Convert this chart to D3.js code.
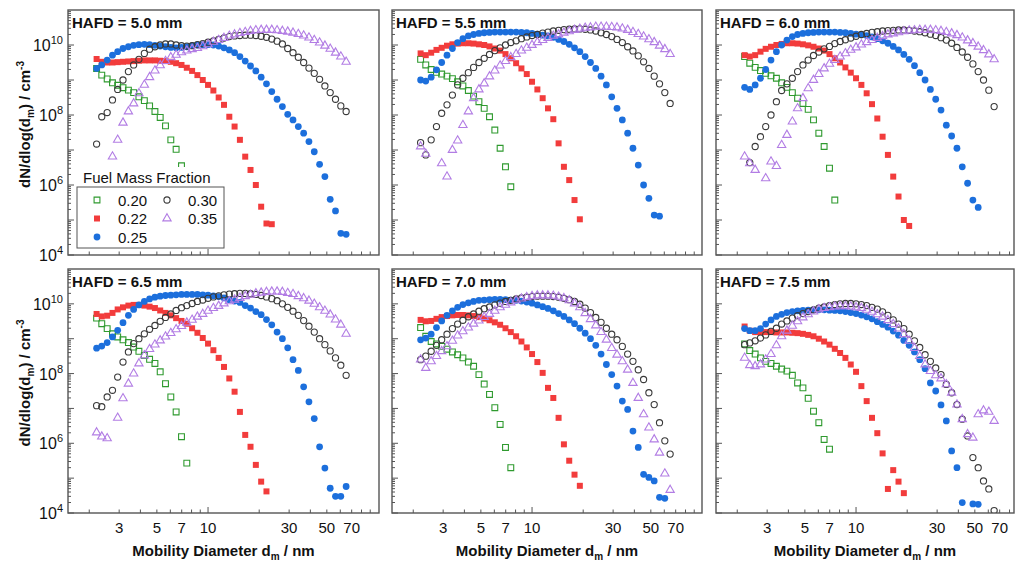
<!DOCTYPE html>
<html>
<head>
  <meta charset="utf-8">
  <script src="https://d3js.org/d3.v7.min.js"></script>
  <style>
    body { margin:0; background:#fff; }
    text { font-family: Arial, "Liberation Sans", sans-serif; fill:#111; }
  </style>
</head>
<body>
<script>
// mobility diameter channels (nm)
var diam = [2.21, 2.37, 2.55, 2.74, 2.94, 3.16, 3.40, 3.65, 3.92, 4.22, 4.53, 4.87,
            5.23, 5.62, 6.04, 6.49, 6.98, 7.50, 8.06, 8.66, 9.31, 10.0, 10.75, 11.55,
            12.41, 13.34, 14.33, 15.40, 16.55, 17.78, 19.11, 20.54, 22.07, 23.71, 25.48, 27.38,
            29.43, 31.62, 33.98, 36.52, 39.24, 42.17, 45.32, 48.70, 52.33, 56.23, 60.43, 64.94];

var fractions = ["0.20", "0.22", "0.25", "0.30", "0.35"];
var hafd = ["5.0", "5.5", "6.0", "6.5", "7.0", "7.5"];

// log10(dN/dlog dm) per fuel mass fraction, starting at diam[0], null = no point
var logN_50 = [
  [9.33, 9.14, 9.03, 8.92, 8.85, 8.78, 8.71, 8.64, 8.52, 8.41, 8.26, 8.10, 7.93, 7.69, 7.29, 7.02, 6.55, 6.0, 5.5],
  [9.60, 9.52, 9.50, 9.50, 9.51, 9.52, 9.53, 9.54, 9.55, 9.56, 9.56, 9.56, 9.55, 9.54, 9.52, 9.48, 9.43, 9.35, 9.26, 9.14, 9.0, 8.86, 8.70, 8.50, 8.29, 7.95, 7.67, 7.29, 6.81, 6.43, 6.0, 5.38, 4.90, 4.88],
  [9.33, 9.43, 9.57, 9.71, 9.81, 9.90, 9.95, 9.99, 10.01, 10.02, 10.01, 9.99, 9.97, 9.95, 9.93, 9.92, 9.93, 9.95, 9.98, 10.0, 10.01, 10.01, 10.0, 9.97, 9.92, 9.86, 9.78, 9.67, 9.54, 9.40, 9.26, 9.08, 8.89, 8.67, 8.45, 8.24, 8.02, 7.86, 7.67, 7.48, 7.24, 6.95, 6.59, 6.24, 5.59, 5.26, 4.62, 4.59],
  [7.17, 7.95, 8.07, 8.43, 8.73, 9.0, 9.24, 9.43, 9.59, 9.76, 9.88, 9.95, 10.0, 10.03, 10.03, 10.0, 9.98, 9.97, 9.98, 10.01, 10.04, 10.08, 10.12, 10.16, 10.20, 10.24, 10.26, 10.27, 10.28, 10.28, 10.27, 10.25, 10.22, 10.17, 10.11, 10.03, 9.90, 9.78, 9.65, 9.50, 9.34, 9.19, 9.02, 8.83, 8.64, 8.45, 8.26, 8.10],
  [null, null, null, 6.81, 7.29, 7.78, 8.10, 8.33, 8.62, 8.86, 9.08, 9.27, 9.42, 9.54, 9.65, 9.72, 9.79, 9.84, 9.88, 9.91, 9.96, 10.02, 10.09, 10.14, 10.20, 10.26, 10.30, 10.34, 10.37, 10.40, 10.42, 10.43, 10.43, 10.43, 10.42, 10.40, 10.38, 10.35, 10.31, 10.27, 10.21, 10.14, 10.07, 9.98, 9.89, 9.78, 9.67, 9.52]
];
var logN_55 = [
  [9.59, 9.43, 9.30, 9.22, 9.17, 9.11, 9.04, 8.95, 8.83, 8.70, 8.54, 8.38, 8.19, 7.95, 7.57, 7.05, 6.52, 5.95],
  [9.76, 9.71, 9.78, 9.86, 9.92, 9.98, 10.02, 10.04, 10.05, 10.05, 10.04, 10.02, 10.0, 9.96, 9.90, 9.84, 9.74, 9.62, 9.48, 9.33, 9.17, 8.95, 8.73, 8.48, 8.19, 7.88, 7.19, 6.52, 6.14, 5.57, 5.02],
  [9.0, 8.97, 9.08, 9.29, 9.50, 9.71, 9.90, 10.07, 10.18, 10.26, 10.30, 10.33, 10.35, 10.36, 10.37, 10.37, 10.37, 10.37, 10.37, 10.36, 10.35, 10.33, 10.31, 10.28, 10.26, 10.22, 10.16, 10.10, 10.02, 9.92, 9.81, 9.67, 9.50, 9.33, 9.11, 8.86, 8.52, 8.19, 7.86, 7.48, 7.05, 6.57, 6.0, 5.62, 5.14, 5.11],
  [7.21, 6.86, 7.29, 7.67, 8.05, 8.29, 8.57, 8.86, 9.05, 9.21, 9.36, 9.50, 9.62, 9.73, 9.84, 9.92, 10.0, 10.07, 10.12, 10.18, 10.23, 10.27, 10.30, 10.34, 10.37, 10.40, 10.42, 10.44, 10.45, 10.46, 10.46, 10.45, 10.43, 10.40, 10.35, 10.30, 10.24, 10.16, 10.07, 9.95, 9.83, 9.69, 9.52, 9.33, 9.11, 8.89, 8.64, 8.33],
  [7.10, 6.89, null, null, 6.62, 6.24, 7.0, 7.27, 7.71, 8.10, 8.48, 8.73, 8.90, 9.10, 9.27, 9.41, 9.54, 9.65, 9.74, 9.84, 9.92, 10.0, 10.08, 10.14, 10.20, 10.26, 10.30, 10.35, 10.39, 10.43, 10.46, 10.49, 10.50, 10.52, 10.52, 10.52, 10.51, 10.50, 10.47, 10.43, 10.37, 10.31, 10.24, 10.16, 10.08, 9.98, 9.88, 9.74]
];
var logN_60 = [
  [9.67, 9.48, 9.36, 9.27, 9.19, 9.12, 9.05, 8.92, 8.79, 8.64, 8.48, 8.33, 8.16, 7.86, 7.48, 7.10, 6.48, 5.57],
  [9.71, 9.67, 9.71, 9.81, 9.89, 9.95, 10.0, 10.03, 10.05, 10.05, 10.04, 10.02, 9.99, 9.95, 9.90, 9.84, 9.74, 9.62, 9.50, 9.36, 9.21, 9.05, 8.86, 8.62, 8.31, 7.90, 7.38, 6.86, 6.24, 5.67, 5.0, 4.83],
  [8.79, 8.73, 8.86, 9.05, 9.30, 9.57, 9.81, 10.0, 10.14, 10.24, 10.30, 10.33, 10.35, 10.36, 10.37, 10.37, 10.37, 10.37, 10.36, 10.35, 10.33, 10.31, 10.29, 10.27, 10.23, 10.18, 10.12, 10.05, 9.96, 9.86, 9.73, 9.59, 9.41, 9.21, 9.0, 8.73, 8.45, 8.14, 7.71, 7.40, 7.05, 6.52, 6.05, 5.57, 5.36],
  [null, 6.64, 7.10, 7.38, 7.67, 8.0, 8.38, 8.70, 8.89, 9.05, 9.24, 9.43, 9.57, 9.70, 9.80, 9.89, 9.96, 10.04, 10.10, 10.15, 10.20, 10.25, 10.30, 10.33, 10.36, 10.38, 10.40, 10.41, 10.42, 10.43, 10.43, 10.42, 10.40, 10.38, 10.35, 10.31, 10.27, 10.21, 10.14, 10.05, 9.93, 9.80, 9.65, 9.46, 9.24, 9.0, 8.71, 8.24],
  [6.81, 6.62, 6.43, null, 6.19, 6.67, 6.54, 7.14, 7.43, 7.81, 8.19, 8.48, 8.76, 9.0, 9.17, 9.33, 9.46, 9.57, 9.67, 9.76, 9.86, 9.93, 10.01, 10.08, 10.14, 10.20, 10.25, 10.30, 10.33, 10.36, 10.39, 10.41, 10.42, 10.43, 10.43, 10.43, 10.42, 10.40, 10.37, 10.33, 10.28, 10.21, 10.13, 10.05, 9.95, 9.85, 9.73, 9.59]
];
var logN_65 = [
  [9.59, 9.43, 9.29, 9.14, 9.05, 8.97, 8.89, 8.76, 8.64, 8.52, 8.41, 8.29, 8.05, 7.71, 7.33, 6.90, 6.19, 5.43],
  [9.71, 9.64, 9.66, 9.74, 9.84, 9.90, 9.95, 9.97, 9.97, 9.95, 9.92, 9.88, 9.81, 9.74, 9.67, 9.59, 9.51, 9.43, 9.30, 9.17, 9.02, 8.86, 8.67, 8.45, 8.19, 7.86, 7.48, 6.90, 6.24, 5.90, 5.38, 4.90, 4.62],
  [8.73, 8.79, 8.89, 9.05, 9.24, 9.46, 9.67, 9.84, 9.97, 10.07, 10.14, 10.19, 10.22, 10.24, 10.25, 10.26, 10.27, 10.27, 10.27, 10.27, 10.26, 10.25, 10.23, 10.21, 10.17, 10.12, 10.08, 10.04, 9.95, 9.88, 9.78, 9.69, 9.55, 9.40, 9.19, 9.0, 8.74, 8.40, 8.09, 7.62, 7.19, 6.71, 5.90, 5.29, 4.71, 4.48, 4.48, 4.76],
  [7.08, 7.05, 7.33, 7.52, 7.90, 8.33, 8.62, 8.86, 9.0, 9.14, 9.27, 9.38, 9.50, 9.61, 9.71, 9.81, 9.89, 9.95, 10.01, 10.07, 10.11, 10.16, 10.20, 10.23, 10.26, 10.28, 10.29, 10.30, 10.30, 10.29, 10.27, 10.24, 10.20, 10.15, 10.09, 10.0, 9.90, 9.79, 9.67, 9.52, 9.36, 9.19, 9.0, 8.83, 8.65, 8.45, 8.24, 7.95],
  [6.31, 6.19, 6.14, null, 6.73, 7.29, 7.71, 8.0, 8.29, 8.52, 8.70, 8.83, 8.95, 9.06, 9.16, 9.27, 9.36, 9.46, 9.54, 9.63, 9.71, 9.80, 9.88, 9.94, 10.01, 10.07, 10.12, 10.17, 10.22, 10.26, 10.30, 10.32, 10.34, 10.35, 10.35, 10.34, 10.31, 10.28, 10.22, 10.16, 10.09, 10.0, 9.90, 9.80, 9.69, 9.55, 9.40, 9.14]
];
var logN_70 = [
  [9.32, 9.07, 8.92, 8.85, 8.78, 8.70, 8.62, 8.54, 8.45, 8.33, 8.21, 7.97, 7.70, 7.40, 7.02, 6.54, 5.88, 5.30],
  [9.54, 9.50, 9.51, 9.57, 9.62, 9.65, 9.67, 9.68, 9.68, 9.67, 9.65, 9.62, 9.58, 9.53, 9.47, 9.40, 9.30, 9.19, 9.07, 8.92, 8.75, 8.56, 8.33, 8.02, 7.59, 7.30, 6.73, 5.97, 5.50, 5.10, 4.78],
  [8.97, 9.02, 9.13, 9.32, 9.51, 9.67, 9.80, 9.90, 9.98, 10.03, 10.07, 10.10, 10.11, 10.12, 10.13, 10.13, 10.12, 10.11, 10.10, 10.08, 10.05, 10.02, 9.97, 9.92, 9.87, 9.80, 9.72, 9.64, 9.54, 9.43, 9.30, 9.16, 9.0, 8.81, 8.56, 8.26, 7.97, 7.64, 7.21, 6.97, 6.35, 5.88, 5.11, 5.02, 4.92, 4.45, 4.42],
  [8.40, 8.50, 8.64, 8.81, 8.97, 9.13, 9.29, 9.42, 9.53, 9.63, 9.71, 9.79, 9.86, 9.91, 9.97, 10.02, 10.07, 10.10, 10.14, 10.17, 10.19, 10.21, 10.22, 10.22, 10.22, 10.21, 10.19, 10.16, 10.12, 10.07, 9.99, 9.88, 9.75, 9.61, 9.47, 9.30, 9.13, 8.97, 8.78, 8.56, 8.35, 8.11, 7.83, 7.45, 7.11, 6.59, 6.07, 5.69],
  [8.40, 8.16, 8.35, 8.50, 8.64, 8.78, 8.94, 9.09, 9.21, 9.32, 9.43, 9.52, 9.62, 9.71, 9.80, 9.90, 9.97, 10.04, 10.10, 10.15, 10.19, 10.22, 10.24, 10.24, 10.24, 10.23, 10.20, 10.16, 10.10, 10.01, 9.90, 9.73, 9.56, 9.38, 9.19, 8.97, 8.73, 8.54, 8.35, 8.11, 7.73, 7.30, 6.83, 6.45, 6.11, 5.73, 5.13, 4.66]
];
var logN_75 = [
  [8.85, 8.66, 8.56, 8.45, 8.35, 8.29, 8.21, 8.13, 8.07, 7.95, 7.73, 7.59, 7.29, 6.92, 6.59, 6.11, 5.83],
  [9.35, 9.23, 9.19, 9.19, 9.19, 9.19, 9.18, 9.18, 9.18, 9.17, 9.16, 9.14, 9.11, 9.07, 9.0, 8.92, 8.83, 8.71, 8.59, 8.45, 8.26, 8.05, 7.64, 7.21, 6.73, 6.29, 5.71, 4.69, 5.23, 4.90, 4.57],
  [9.29, 9.23, 9.23, 9.29, 9.42, 9.54, 9.64, 9.70, 9.75, 9.78, 9.80, 9.81, 9.82, 9.83, 9.83, 9.83, 9.82, 9.81, 9.80, 9.78, 9.75, 9.72, 9.68, 9.63, 9.57, 9.49, 9.41, 9.33, 9.22, 9.10, 8.95, 8.81, 8.62, 8.40, 8.14, 7.73, 7.50, 7.10, 6.64, 5.78, 5.30, 4.30, null, 4.26, 4.25],
  [8.83, 8.88, 8.94, 9.02, 9.11, 9.21, 9.30, 9.42, 9.51, 9.59, 9.66, 9.72, 9.78, 9.83, 9.88, 9.91, 9.95, 9.98, 10.0, 10.01, 10.01, 10.0, 9.98, 9.95, 9.90, 9.85, 9.77, 9.67, 9.54, 9.42, 9.29, 9.13, 8.94, 8.75, 8.54, 8.35, 8.16, 7.97, 7.69, 7.45, 7.11, 6.69, 6.21, 5.59, 5.30, 4.92, 4.69, 4.07],
  [8.45, 8.24, 8.21, 8.26, 8.40, 8.56, 8.81, 9.07, 9.23, 9.37, 9.50, 9.61, 9.70, 9.78, 9.84, 9.88, 9.90, 9.92, 9.93, 9.93, 9.92, 9.90, 9.88, 9.83, 9.77, 9.70, 9.63, 9.53, 9.42, 9.29, 9.13, 8.94, 8.73, 8.50, 8.26, 8.07, 7.95, 7.86, 7.69, 7.45, 7.11, 6.69, 6.26, 6.16, 6.83, 6.94, 6.90, 6.64]
];

var panelData = [logN_50, logN_55, logN_60, logN_65, logN_70, logN_75];

var xTickLabels = [3, 5, 7, 10, 30, 50, 70];
var yTickLabels = [4, 6, 8, 10];

// marker styles per fuel mass fraction
var colors = ["#2f9a2f", "#f23c3c", "#1c6fdc", "#3a3a3a", "#b27de4"];
var shapes = [d3.symbolSquare, d3.symbolSquare, d3.symbolCircle, d3.symbolCircle, d3.symbolTriangle];
var sizes = [34, 36, 36, 30, 30];
var filled = [false, true, true, false, false];

var cols = [{x: 68, w: 311}, {x: 392, w: 310}, {x: 716, w: 298}];
var rows = [{y: 10, h: 245}, {y: 269, h: 244}];

var svg = d3.select("body").append("svg")
  .attr("width", 1018)
  .attr("height", 561);

var sym = d3.symbol();

function styleMarker(sel, i) {
  sel.attr("d", sym.type(shapes[i]).size(sizes[i])())
    .attr("fill", filled[i] ? colors[i] : "none")
    .attr("stroke", filled[i] ? "none" : colors[i])
    .attr("stroke-width", 1.1);
}

panelData.forEach(function(series, p) {
  var r = Math.floor(p / 3), c = p % 3;
  var col = cols[c], row = rows[r];

  var x = d3.scaleLog().domain([1.5, 100]).range([0, 310]);
  var y = d3.scaleLog().domain([1e4, 1e11]).range([row.h, 0]);

  var g = svg.append("g").attr("transform", "translate(" + col.x + "," + row.y + ")");

  g.append("clipPath").attr("id", "clip" + p)
    .append("rect").attr("width", col.w).attr("height", row.h);

  // ticks (inward)
  var xt = [];
  [1, 10].forEach(function(dec) {
    for (var m = 1; m < 10; m++) xt.push({v: m * dec, major: m === 1});
  });
  xt.push({v: 100, major: true});
  xt = xt.filter(function(t) { return t.v > 1.5 && x(t.v) < col.w - 1; });
  g.selectAll(".xt").data(xt).enter().append("line")
    .attr("x1", function(d) { return x(d.v); })
    .attr("x2", function(d) { return x(d.v); })
    .attr("y1", row.h)
    .attr("y2", function(d) { return row.h - (d.major ? 6 : 3.5); })
    .attr("stroke", "#555").attr("stroke-width", 1);

  var yt = [];
  for (var e = 4; e < 11; e++) {
    for (var m = 1; m < 10; m++) yt.push({v: m * Math.pow(10, e), major: m === 1});
  }
  g.selectAll(".yt").data(yt).enter().append("line")
    .attr("x1", 0)
    .attr("x2", function(d) { return d.major ? 6 : 3; })
    .attr("y1", function(d) { return y(d.v); })
    .attr("y2", function(d) { return y(d.v); })
    .attr("stroke", "#555").attr("stroke-width", 1);

  // markers
  var plot = g.append("g").attr("clip-path", "url(#clip" + p + ")");
  series.forEach(function(vals, i) {
    var pts = [];
    vals.forEach(function(v, k) {
      if (v !== null) pts.push({d: diam[k], n: Math.pow(10, v)});
    });
    plot.selectAll(".s" + i).data(pts).enter().append("path")
      .attr("transform", function(d) { return "translate(" + x(d.d) + "," + y(d.n) + ")"; })
      .call(styleMarker, i);
  });

  // frame
  g.append("rect").attr("width", col.w).attr("height", row.h)
    .attr("fill", "none").attr("stroke", "#555").attr("stroke-width", 1.4);

  g.append("text").attr("x", 4).attr("y", 18)
    .attr("font-size", 15).attr("font-weight", "bold")
    .text("HAFD = " + hafd[p] + " mm");

  if (r === 1) {
    g.selectAll(".xl").data(xTickLabels).enter().append("text")
      .attr("x", function(d) { return x(d); })
      .attr("y", row.h + 20)
      .attr("text-anchor", "middle").attr("font-size", 15)
      .text(function(d) { return d; });

    var xt2 = g.append("text").attr("x", col.w / 2).attr("y", row.h + 43)
      .attr("text-anchor", "middle").attr("font-size", 15).attr("font-weight", "bold");
    xt2.append("tspan").text("Mobility Diameter d");
    xt2.append("tspan").attr("font-size", 10).attr("dy", 4).text("m");
    xt2.append("tspan").attr("dy", -4).text(" / nm");
  }

  if (c === 0) {
    yTickLabels.forEach(function(e) {
      var t = g.append("text").attr("x", -5).attr("y", y(Math.pow(10, e)) + 6)
        .attr("text-anchor", "end").attr("font-size", 16);
      t.append("tspan").text("10");
      t.append("tspan").attr("font-size", 11).attr("dy", -7).text(e);
    });

    var yl = g.append("text")
      .attr("transform", "translate(-38," + (row.h / 2 - 8) + ") rotate(-90)")
      .attr("text-anchor", "middle").attr("font-size", 15).attr("font-weight", "bold");
    yl.append("tspan").text("dN/dlog(d");
    yl.append("tspan").attr("font-size", 10).attr("dy", 4).text("m");
    yl.append("tspan").attr("dy", -4).text(") / cm");
    yl.append("tspan").attr("font-size", 10).attr("dy", -6).text("-3");
  }

  // legend in first panel
  if (p === 0) {
    var lg = g.append("g").attr("transform", "translate(9,157)");
    lg.append("rect").attr("x", 0).attr("y", 0).attr("width", 147).attr("height", 20).attr("fill", "#fff");
    lg.append("rect").attr("x", 0).attr("y", 20).attr("width", 147).attr("height", 61)
      .attr("fill", "#fff").attr("stroke", "#555").attr("stroke-width", 1);
    lg.append("text").attr("x", 6).attr("y", 16).attr("font-size", 15).text("Fuel Mass Fraction");
    var pos = [[0, 0], [0, 1], [0, 2], [1, 0], [1, 1]];
    fractions.forEach(function(f, i) {
      var lx = 20 + pos[i][0] * 70, ly = 33 + pos[i][1] * 18.5;
      lg.append("path").attr("transform", "translate(" + lx + "," + ly + ")").call(styleMarker, i);
      lg.append("text").attr("x", lx + 21).attr("y", ly + 5.5).attr("font-size", 15).text(f);
    });
  }
});
</script>
</body>
</html>
